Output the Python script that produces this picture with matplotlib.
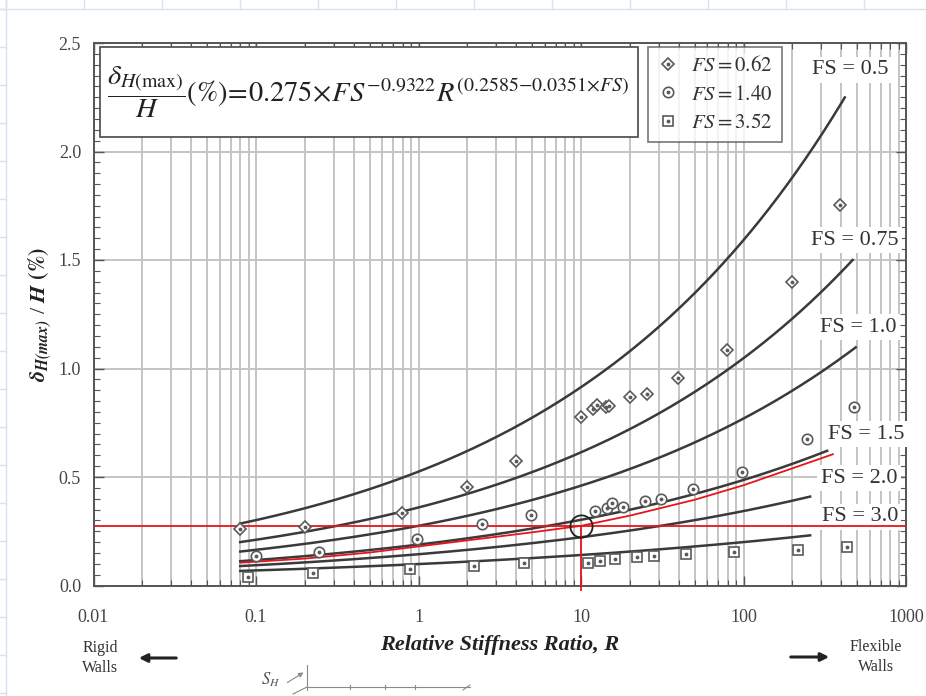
import numpy as np
import matplotlib
matplotlib.use("Agg")
import matplotlib.pyplot as plt
from matplotlib.lines import Line2D
from matplotlib.patches import Rectangle

plt.rcParams['font.family'] = ['Liberation Serif', 'DejaVu Serif']
plt.rcParams['mathtext.fontset'] = 'stix'

# Design equation: dH/H(%) = A * FS^B * R^(C - D*FS)
coef_a = 0.275
coef_b = -0.9322
coef_c = 0.2585
coef_d = 0.0351

# Safety-factor curves and the largest R each one is drawn to
curve_fs = [0.5, 0.75, 1.0, 1.5, 2.0, 3.0]
curve_r_max = [420, 470, 490, 327, 257, 257]
curve_r_min = 0.08
curve_labels = ["FS = 0.5", "FS = 0.75", "FS = 1.0", "FS = 1.5", "FS = 2.0", "FS = 3.0"]
label_r = [452, 485, 507, 567, 514, 520]
label_y = [2.376, 1.592, 1.191, 0.698, 0.495, 0.316]

# Highlighted (red) design line
red_r = [0.08, 0.2, 0.5, 1, 2, 5, 10, 20, 50, 100, 200, 355]
red_y = [0.105, 0.124, 0.152, 0.180, 0.208, 0.245, 0.275, 0.322, 0.395, 0.462, 0.540, 0.605]
ref_r = 10
ref_y = 0.275

# Case-history data points
fs062_r = [0.08, 0.20, 0.795, 1.98, 3.96, 10.0, 11.8, 12.5, 14.2, 14.8, 20.0, 25.4, 39.7, 78.9, 198, 393]
fs062_y = [0.262, 0.271, 0.333, 0.455, 0.575, 0.778, 0.812, 0.832, 0.824, 0.829, 0.870, 0.882, 0.955, 1.085, 1.397, 1.753]

fs140_r = [0.10, 0.245, 0.98, 2.45, 4.9, 12.2, 14.4, 15.5, 18.1, 24.8, 31.0, 48.7, 97.6, 245, 480]
fs140_y = [0.137, 0.156, 0.213, 0.283, 0.325, 0.345, 0.356, 0.379, 0.360, 0.391, 0.397, 0.443, 0.523, 0.674, 0.824]

fs352_r = [0.0897, 0.223, 0.887, 2.19, 4.46, 11.1, 13.1, 16.2, 22.0, 28.1, 44.3, 87.4, 217, 436]
fs352_y = [0.041, 0.059, 0.076, 0.091, 0.105, 0.105, 0.114, 0.121, 0.133, 0.137, 0.144, 0.153, 0.164, 0.177]

x_ticks = [0.01, 0.1, 1, 10, 100, 1000]
x_tick_labels = ["0.01", "0.1", "1", "10", "100", "1000"]
y_ticks = [0.0, 0.5, 1.0, 1.5, 2.0, 2.5]

W, H = 926, 696
fig = plt.figure(figsize=(W / 100, H / 100), dpi=100)

# faint sheet grid behind the figure card
bg = "#d6e4f2"
for xp in range(6, W, 78):
    fig.add_artist(Line2D([xp / W, xp / W], [1 - 9 / H, 1], color=bg, lw=1))
for yp in range(9, H, 38):
    fig.add_artist(Line2D([0, 6 / W], [1 - yp / H, 1 - yp / H], color=bg, lw=1))
fig.add_artist(Line2D([0, 1], [1 - 9 / H, 1 - 9 / H], color=bg, lw=1))
fig.add_artist(Line2D([6 / W, 6 / W], [0, 1], color=bg, lw=1))

ax = fig.add_axes([93.5 / W, 1 - 585.5 / H, 812.5 / W, 542.5 / H])
ax.set_xscale('log')
ax.set_xlim(0.01, 1000)
ax.set_ylim(0, 2.5)

grid_c = "#c4c4c4"
ax.grid(True, which='both', axis='x', color=grid_c, lw=1.4)
ax.grid(True, which='major', axis='y', color=grid_c, lw=1.4)
ax.set_axisbelow(True)

ax.set_xticks(x_ticks)
ax.set_xticklabels(x_tick_labels)
ax.set_yticks(y_ticks)
ax.set_yticklabels([f"{v:.1f}" for v in y_ticks])
ax.set_yticks(np.arange(0, 2.5001, 0.05), minor=True)
ax.xaxis.set_minor_formatter(plt.NullFormatter())
ax.tick_params(which='both', direction='in', top=True, right=True, colors='#555555',
               labelcolor='#444444', labelsize=13)
ax.tick_params(which='major', length=7, width=1.0)
ax.tick_params(which='minor', length=4, width=0.8)
ax.tick_params(axis='x', pad=17)
ax.tick_params(axis='y', pad=9)
for s in ax.spines.values():
    s.set_color('#555555')
    s.set_linewidth(1.4)

# design curves
for fs, rmax in zip(curve_fs, curve_r_max):
    r = np.logspace(np.log10(curve_r_min), np.log10(rmax), 200)
    y = coef_a * fs ** coef_b * r ** (coef_c - coef_d * fs)
    ax.plot(r, y, color='#3a3a3a', lw=1.8, zorder=3)

for txt, lr, ly in zip(curve_labels, label_r, label_y):
    ax.text(lr, ly, txt, ha='center', va='center', fontsize=16, color='#333333', zorder=4,
            bbox=dict(boxstyle='square,pad=0.15', fc='white', ec='none'))

# red reference lines and highlighted curve
ax.plot(red_r, red_y, color='#e8141b', lw=1.3, zorder=4)
ax.axhline(ref_y, color='#e8141b', lw=1.3, zorder=4)
ax.plot([ref_r, ref_r], [-0.02, ref_y], color='#e8141b', lw=1.3, zorder=4, clip_on=False)
ax.plot([ref_r], [ref_y], marker='o', ms=16, mfc='none', mec='#222222', mew=1.3, zorder=5)

# data points with a centre dot
mk_c = '#5a5a5a'
def dotted(rs, ys, marker, ms):
    h1, = ax.plot(rs, ys, ls='none', marker=marker, ms=ms, mfc='white', mec=mk_c, mew=1.2, zorder=5)
    h2, = ax.plot(rs, ys, ls='none', marker='.', ms=3.5, color=mk_c, zorder=6)
    return (h1, h2)

hd = dotted(fs062_r, fs062_y, 'D', 6.5)
hc = dotted(fs140_r, fs140_y, 'o', 7.5)
hs = dotted(fs352_r, fs352_y, 's', 6.5)

leg = ax.legend([hd, hc, hs], [r'$FS = 0.62$', r'$FS = 1.40$', r'$FS = 3.52$'],
                loc='upper left', bbox_to_anchor=((648 - 93.5) / 812.5, 1 - (47 - 43) / 542.5),
                frameon=True, fancybox=False, fontsize=15, handlelength=1.0,
                handletextpad=0.6, borderpad=0.45, labelspacing=0.42, borderaxespad=0)
leg.get_frame().set_edgecolor('#555555')
leg.get_frame().set_linewidth(1.2)
for t in leg.get_texts():
    t.set_color('#333333')
leg.set_zorder(7)

# equation box
box = Rectangle(((100 - 93.5) / 812.5, 1 - (137 - 43) / 542.5), (638 - 100) / 812.5, 90 / 542.5,
                transform=ax.transAxes, fc='white', ec='#555555', lw=1.3, zorder=7)
ax.add_patch(box)
ax.text((107 - 93.5) / 812.5, 1 - (92 - 43) / 542.5,
        r'$\dfrac{\delta_{H(\max)}}{H}(\%)\!=\!0.275\!\times\! FS^{-0.9322}R^{(0.2585{-}0.0351{\times}FS)}$',
        transform=ax.transAxes, ha='left', va='center', fontsize=20.5, color='#222222', zorder=8)

# axis titles
fig.text(40 / W, 1 - 314 / H, r'$\mathbfit{\delta_{H(max)}}$' + ' / ' + r'$\mathbfit{H}$' + r' $\mathbf{(\%)}$',
         rotation=90, ha='center', va='center', fontsize=16, color='#222222')
fig.text(500 / W, 1 - 645 / H, 'Relative Stiffness Ratio, R', ha='center', va='center',
         fontsize=16, fontweight='bold', fontstyle='italic', color='#222222')

# wall-type annotations
fig.text(100 / W, 1 - 658 / H, 'Rigid\nWalls', ha='center', va='center', fontsize=11.5,
         color='#333333', linespacing=1.3)
fig.text(876 / W, 1 - 657 / H, 'Flexible\nWalls', ha='center', va='center', fontsize=11.5,
         color='#333333', linespacing=1.3)
fig.add_artist(plt.Annotation('', xy=(136 / W, 1 - 658 / H), xytext=(179 / W, 1 - 658 / H),
                              xycoords='figure fraction',
                              arrowprops=dict(arrowstyle='-|>', color='#222222', lw=2.2,
                                              mutation_scale=12)))
fig.add_artist(plt.Annotation('', xy=(832 / W, 1 - 657 / H), xytext=(788 / W, 1 - 657 / H),
                              xycoords='figure fraction',
                              arrowprops=dict(arrowstyle='-|>', color='#222222', lw=2.2,
                                              mutation_scale=12)))

# cropped sketch below the axis
sk = '#8a8a8a'
fig.text(271 / W, 1 - 680 / H, r'$S_H$', ha='center', va='center', fontsize=12, color='#555555')
fig.add_artist(plt.Annotation('', xy=(306 / W, 1 - 671 / H), xytext=(285 / W, 1 - 684 / H),
                              xycoords='figure fraction',
                              arrowprops=dict(arrowstyle='-|>', color=sk, lw=0.8, mutation_scale=7)))
fig.add_artist(Line2D([307 / W, 307 / W], [1 - 665 / H, 1 - 690 / H], color=sk, lw=0.8))
fig.add_artist(Line2D([307 / W, 470 / W], [1 - 687 / H, 1 - 687 / H], color=sk, lw=0.8))
fig.add_artist(Line2D([293 / W, 307 / W], [1 - 694 / H, 1 - 687 / H], color=sk, lw=0.8))
fig.add_artist(Line2D([463 / W, 470 / W], [1 - 690 / H, 1 - 685 / H], color=sk, lw=0.8))
for tx in (350, 385, 415):
    fig.add_artist(Line2D([tx / W, tx / W], [1 - 685 / H, 1 - 689 / H], color=sk, lw=0.8))

fig.savefig('out.png', dpi=100)
